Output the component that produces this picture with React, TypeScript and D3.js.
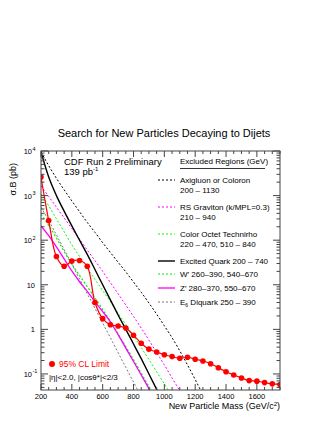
import React from "react";
import * as d3 from "d3";

// ---------- data ----------
const limitMass = [200, 250, 300, 350, 400, 450, 500, 550, 600, 650, 700, 750, 800, 850, 900, 950, 1000, 1050, 1100, 1150, 1200, 1250, 1300, 1350, 1400, 1450, 1500, 1550, 1600, 1650, 1700, 1750];
const limitValues = [2600, 275, 43, 26, 34, 35, 26, 4.0, 1.74, 1.27, 1.19, 1.07, 0.74, 0.49, 0.36, 0.31, 0.27, 0.245, 0.225, 0.237, 0.214, 0.195, 0.17, 0.138, 0.112, 0.095, 0.081, 0.071, 0.069, 0.064, 0.06, 0.058];

const theoryMass = [200, 250, 300, 350, 400, 450, 500, 550, 600, 650, 700, 750, 800, 850, 900, 950, 1000, 1050, 1100, 1150, 1200, 1250];
const axigluon = [9500, 4700, 2450, 1350, 760, 435, 250, 150, 88, 53, 32, 19.5, 11.5, 6.8, 3.9, 2.2, 1.2, 0.65, 0.33, 0.16, 0.075, 0.034];
const excitedQuark = [9500, 2600, 1000, 450, 210, 100, 48, 22, 10, 4.6, 2.1, 1.0, 0.47, 0.22, 0.1, 0.045, 0.02];
const rsGraviton = [1660, 955, 550, 316, 182, 105, 60, 35, 20, 11.2, 6.3, 3.5, 1.95, 1.07, 0.575, 0.3, 0.16, 0.081, 0.042, 0.021];
const technirho = [1120, 590, 300, 155, 79, 43, 23.4, 13.2, 7.4, 4.2, 2.3, 1.29, 0.71, 0.39, 0.21, 0.112, 0.06, 0.032];
const wPrime = [380, 214, 112, 56, 29, 16.2, 9.1, 5.1, 2.8, 1.51, 0.79, 0.41, 0.21, 0.105, 0.052, 0.026];
const zPrime = [209, 126, 71, 38, 20.4, 11.7, 7.1, 4.2, 2.5, 1.48, 0.76, 0.38, 0.19, 0.095, 0.047, 0.023];
const e6Diquark = [550, 275, 132, 62, 29, 13.5, 6.3, 2.95, 1.38, 0.65, 0.3, 0.141, 0.066, 0.031];

const xMajorTicks = [200, 400, 600, 800, 1000, 1200, 1400, 1600];
const yMajorTicks = [0.1, 1, 10, 100, 1000, 10000];
const yTickExp = ["-1", "", "", "2", "3", "4"];
const yTickBase = ["10", "1", "10", "10", "10", "10"];

// ---------- layout ----------
const W = 327;
const H = 423;
const L = 41, R = 280, T = 151, B = 390;
const FONT = "'Liberation Sans', Arial, Helvetica, sans-serif";

const x = d3.scaleLinear().domain([200, 1750]).range([L, R]);
const y = d3.scaleLog().domain([0.0437, 10000]).range([B, T]);

type Series = { name: string; values: number[]; color: string; dash?: string; width: number };
const series: Series[] = [
  { name: "axigluon", values: axigluon, color: "#000000", dash: "2,2", width: 1 },
  { name: "graviton", values: rsGraviton, color: "#ff00ff", dash: "2,2", width: 1 },
  { name: "technirho", values: technirho, color: "#00ff00", dash: "2,2", width: 1 },
  { name: "excited", values: excitedQuark, color: "#000000", width: 1.4 },
  { name: "wprime", values: wPrime, color: "#00ee00", dash: "2,2", width: 1.2 },
  { name: "zprime", values: zPrime, color: "#ff00ff", width: 1.3 },
  { name: "e6", values: e6Diquark, color: "#777777", dash: "2,2", width: 1 },
];

const legendRows = [
  { s: 0, lines: ["Axigluon or Coloron", "200 \u2013 1130"], y: 180 },
  { s: 1, lines: ["RS Graviton (k/MPL=0.3)", "210 \u2013 940"], y: 207 },
  { s: 2, lines: ["Color Octet Technirho", "220 \u2013 470, 510 \u2013 840"], y: 234 },
  { s: 3, lines: ["Excited Quark  200 \u2013 740"], y: 261 },
  { s: 4, lines: ["W\u2032  260\u2013390, 540\u2013670"], y: 274 },
  { s: 5, lines: ["Z\u2032  280\u2013370, 550\u2013670"], y: 288 },
  { s: 6, lines: ["E6 Diquark  250 \u2013 390"], y: 302 },
];

export default function App() {
  const theoryLine = (vals: number[]) =>
    d3
      .line<number>()
      .x((_, i) => x(theoryMass[i]))
      .y((v) => y(v))
      .curve(d3.curveMonotoneX)(vals) || "";

  const limitPath =
    d3
      .line<number>()
      .x((_, i) => x(limitMass[i]))
      .y((v) => y(v))
      .curve(d3.curveCatmullRom.alpha(0.5))(limitValues) || "";

  const xMinor = d3.range(200, 1751, 50).filter((m) => !xMajorTicks.includes(m));
  const yMinor: number[] = [];
  for (let e = -2; e <= 3; e++) {
    for (let k = 2; k <= 9; k++) {
      const v = k * Math.pow(10, e);
      if (v >= y.domain()[0] && v <= y.domain()[1]) yMinor.push(v);
    }
  }
  const axisColor = "#444";

  return (
    <svg width={W} height={H} style={{ display: "block", position: "absolute", left: 0, top: 0 }} fontFamily={FONT}>
      <rect x={0} y={0} width={W} height={H} fill="#fff" />
      <defs>
        <clipPath id="plotclip">
          <rect x={L} y={T} width={R - L} height={B - T} />
        </clipPath>
      </defs>

      {/* title */}
      <text x={164} y={137} fontSize={11} textAnchor="middle" fill="#000">
        Search for New Particles Decaying to Dijets
      </text>

      {/* curves */}
      <g clipPath="url(#plotclip)">
        {series.map((s) => (
          <path
            key={s.name}
            d={theoryLine(s.values)}
            fill="none"
            stroke={s.color}
            strokeWidth={s.width}
            strokeDasharray={s.dash}
          />
        ))}
        <path d={limitPath} fill="none" stroke="#ff0000" strokeWidth={1.2} />
        {limitValues.map((v, i) => (
          <circle key={i} cx={x(limitMass[i])} cy={y(v)} r={2.8} fill="#ff0000" />
        ))}
      </g>

      {/* frame */}
      <rect x={L} y={T} width={R - L} height={B - T} fill="none" stroke={axisColor} strokeWidth={1} />

      {/* x ticks */}
      {xMajorTicks.map((m) => (
        <g key={"xm" + m}>
          <line x1={x(m)} x2={x(m)} y1={B} y2={B - 6} stroke={axisColor} />
          <line x1={x(m)} x2={x(m)} y1={T} y2={T + 6} stroke={axisColor} />
          <text x={x(m)} y={399} fontSize={7.5} textAnchor="middle" fill="#000">
            {m}
          </text>
        </g>
      ))}
      {xMinor.map((m) => (
        <g key={"xn" + m}>
          <line x1={x(m)} x2={x(m)} y1={B} y2={B - 3} stroke={axisColor} />
          <line x1={x(m)} x2={x(m)} y1={T} y2={T + 3} stroke={axisColor} />
        </g>
      ))}

      {/* y ticks */}
      {yMajorTicks.map((v, i) => (
        <g key={"ym" + v}>
          <line x1={L} x2={L + 7} y1={y(v)} y2={y(v)} stroke={axisColor} />
          <line x1={R} x2={R - 7} y1={y(v)} y2={y(v)} stroke={axisColor} />
          <text x={yTickExp[i] ? 32 : 35} y={y(v) + 3} fontSize={7.5} textAnchor="end" fill="#000">
            {yTickBase[i]}
          </text>
          {yTickExp[i] && (
            <text x={32.5} y={y(v) - 0.5} fontSize={5.5} textAnchor="start" fill="#000">
              {yTickExp[i]}
            </text>
          )}
        </g>
      ))}
      {yMinor.map((v) => (
        <g key={"yn" + v}>
          <line x1={L} x2={L + 3.5} y1={y(v)} y2={y(v)} stroke={axisColor} />
          <line x1={R} x2={R - 3.5} y1={y(v)} y2={y(v)} stroke={axisColor} />
        </g>
      ))}

      {/* axis titles */}
      <text transform="translate(16,163) rotate(-90)" fontSize={9} textAnchor="end" fill="#000">
        {"\u03c3.B (pb)"}
      </text>
      <text x={280} y={409} fontSize={9} textAnchor="end" fill="#000">
        New Particle Mass (GeV/c
        <tspan fontSize={6} dy={-3}>2</tspan>
        <tspan dy={3}>)</tspan>
      </text>

      {/* CDF label */}
      <text x={64} y={165} fontSize={9.5} fill="#000">CDF Run 2 Preliminary</text>
      <text x={64} y={175} fontSize={9.5} fill="#000">
        139 pb<tspan fontSize={6} dy={-4}>-1</tspan>
      </text>

      {/* legend header */}
      <text x={180} y={164} fontSize={8} fill="#000">Excluded Regions (GeV)</text>
      <line x1={180} x2={265} y1={168.5} y2={168.5} stroke="#000" strokeWidth={0.8} />

      {legendRows.map((r) => {
        const s = series[r.s];
        return (
          <g key={s.name}>
            <line x1={158} x2={175} y1={r.y} y2={r.y} stroke={s.color} strokeWidth={s.width} strokeDasharray={s.dash} />
            {r.lines.map((t, j) =>
              s.name === "e6" ? (
                <text key={j} x={180} y={r.y + 2.5} fontSize={8} fill="#000">
                  E<tspan fontSize={5} dy={2}>6</tspan>
                  <tspan dy={-2}> Diquark  250 {"\u2013"} 390</tspan>
                </text>
              ) : (
                <text key={j} x={180} y={r.y + 2.5 + j * 10} fontSize={8} fill="#000">
                  {t}
                </text>
              )
            )}
          </g>
        );
      })}

      {/* limit legend */}
      <circle cx={52} cy={364} r={3} fill="#ff0000" />
      <text x={59} y={367} fontSize={8.5} fill="#ff0000">95% CL Limit</text>
      <text x={49} y={379.5} fontSize={8} fill="#000">
        {"|\u03b7|<2.0,  |cos\u03b8*|<2/3"}
      </text>
    </svg>
  );
}
